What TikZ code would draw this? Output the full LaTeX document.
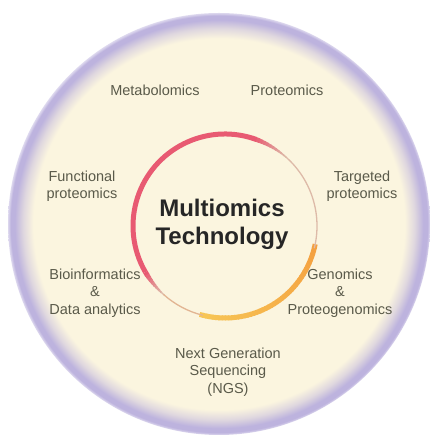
\documentclass[tikz,border=0pt]{standalone}
\usepackage{fontspec}
\usetikzlibrary{calc}
\setmainfont{Liberation Sans}
\definecolor{cream}{HTML}{FBF5DF}
\definecolor{lav}{HTML}{BDB3DE}
\definecolor{ringred}{HTML}{E85A72}
\definecolor{ringorange}{HTML}{F4A040}
\definecolor{ringyellow}{HTML}{F7C656}
\definecolor{ringpale}{HTML}{DDBAA8}
\definecolor{labelgrey}{HTML}{5A5A4A}
\definecolor{titlegrey}{HTML}{262626}
\pgfdeclareradialshading{rimshade}{\pgfpoint{0bp}{0bp}}{color(0bp)=(cream); color(22bp)=(cream); color(23.2bp)=(lav!45!cream); color(24.2bp)=(lav); color(24.7bp)=(lav); color(25bp)=(lav!50!white); color(50bp)=(white)}
\begin{document}
\begin{tikzpicture}[x=1pt,y=1pt,
  lbl/.style={font=\fontsize{14.5}{17.5}\selectfont, text=labelgrey, align=center, inner sep=0pt},
  ttl/.style={font=\fontsize{24}{28}\selectfont\bfseries, text=titlegrey, align=center, inner sep=0pt}]
\useasboundingbox (0,0) rectangle (429,436);
\fill[white] (0,0) rectangle (429,436);
% outer disc with lavender rim
\shade[shading=rimshade] (219,212) circle (211);
% inner ring
\coordinate (rc) at (225,210);
\def\R{92}
% yellow-orange arc
\foreach \a in {-106,-104,...,-14}{
  \pgfmathtruncatemacro\t{(\a+106)/92*100}
  \draw[ringorange!\t!ringyellow, line width=5pt] ($(rc)+(\a:\R)$) arc[start angle=\a, end angle=\a+2.6, radius=\R];
}
% pale right segment
\draw[ringpale, line width=1.3pt] ($(rc)+(-14:\R)$) arc[start angle=-14, end angle=50, radius=\R];
% red fade in
\foreach \a in {48,50,...,70}{
  \pgfmathsetmacro\w{1.3+3.7*(\a-48)/22}
  \pgfmathtruncatemacro\t{(\a-48)/22*100}
  \draw[ringred!\t!ringpale, line width=\w pt] ($(rc)+(\a:\R)$) arc[start angle=\a, end angle=\a+2.6, radius=\R];
}
\draw[ringred, line width=5pt] ($(rc)+(72:\R)$) arc[start angle=72, end angle=210, radius=\R];
\foreach \a in {210,212,...,226}{
  \pgfmathsetmacro\w{5-3.7*(\a-210)/16}
  \pgfmathtruncatemacro\t{100-(\a-210)/16*100}
  \draw[ringred!\t!ringpale, line width=\w pt] ($(rc)+(\a:\R)$) arc[start angle=\a, end angle=\a+2.6, radius=\R];
}
\draw[ringpale!80!ringorange, line width=1.3pt] ($(rc)+(228:\R)$) arc[start angle=228, end angle=256, radius=\R];
% labels
\node[ttl] (title) at (222,212) {Multiomics\\Technology};
\node[lbl] (metab) at (155,346) {Metabolomics};
\node[lbl] (prot) at (287,346) {Proteomics};
\node[lbl] (func) at (82,249.5) {Functional\\proteomics};
\node[lbl] (targ) at (362,249.5) {Targeted\\proteomics};
\node[lbl] (bioinf) at (95,143) {Bioinformatics\\\&\\Data analytics};
\node[lbl] (genom) at (340,143) {Genomics\\\&\\Proteogenomics};
\node[lbl] (ngs) at (228,64) {Next Generation\\Sequencing\\(NGS)};
\end{tikzpicture}
\end{document}
